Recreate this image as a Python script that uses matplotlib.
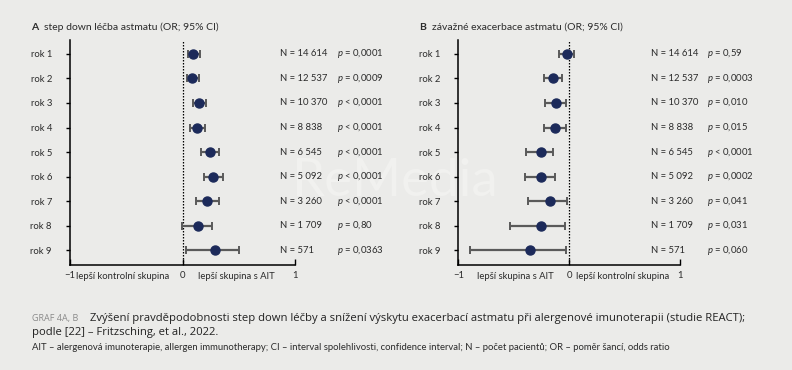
import numpy as np
import matplotlib
matplotlib.use("Agg")
import matplotlib.pyplot as plt
from matplotlib.transforms import blended_transform_factory

# ---- data ----
years = ["rok 1", "rok 2", "rok 3", "rok 4", "rok 5", "rok 6", "rok 7", "rok 8", "rok 9"]
n_patients = ["14 614", "12 537", "10 370", "8 838", "6 545", "5 092", "3 260", "1 709", "571"]

# A: step down lecba astmatu
a_or = [0.09, 0.08, 0.15, 0.13, 0.245, 0.275, 0.22, 0.135, 0.285]
a_lo = [0.05, 0.04, 0.09, 0.07, 0.165, 0.19, 0.12, -0.005, 0.03]
a_hi = [0.155, 0.15, 0.21, 0.20, 0.32, 0.36, 0.32, 0.265, 0.50]
a_p = ["= 0,0001", "= 0,0009", "< 0,0001", "< 0,0001", "< 0,0001",
       "< 0,0001", "< 0,0001", "= 0,80", "= 0,0363"]

# B: zavazne exacerbace astmatu
b_or = [-0.015, -0.145, -0.115, -0.125, -0.255, -0.25, -0.175, -0.255, -0.355]
b_lo = [-0.09, -0.23, -0.215, -0.23, -0.385, -0.40, -0.37, -0.535, -0.89]
b_hi = [0.045, -0.065, -0.025, -0.025, -0.145, -0.125, -0.015, -0.04, -0.025]
b_p = ["= 0,59", "= 0,0003", "= 0,010", "= 0,015", "< 0,0001",
       "= 0,0002", "= 0,041", "= 0,031", "= 0,060"]

BG = "#ebebe9"
TXT = "#2b2b2b"
NAVY = "#1c2a5a"
BAR = "#5a5a5a"

plt.rcParams["font.family"] = ["Lato", "DejaVu Sans"]
plt.rcParams["mathtext.fontset"] = "custom"
plt.rcParams["mathtext.it"] = "Lato:italic"
plt.rcParams["mathtext.rm"] = "Lato"

W, H = 792, 370
fig = plt.figure(figsize=(W / 100, H / 100), dpi=100, facecolor=BG)


def px(x0, y0, x1, y1):
    # figure-pixel box (top-left origin) -> axes rect
    return [x0 / W, 1 - y1 / H, (x1 - x0) / W, (y1 - y0) / H]


# watermark, kept behind everything
fig.text(394 / W, 1 - 181 / H, "ReMedia", fontsize=38, color="#f1f1ef",
         ha="center", va="center", zorder=-5)


def panel(rect, orv, lo, hi, pvals, letter, title, left_lab, right_lab,
          n_x, p_x, tx):
    ax = fig.add_axes(rect)
    ax.set_facecolor("none")
    y = np.arange(1, len(years) + 1)
    orv = np.array(orv)
    err = [orv - np.array(lo), np.array(hi) - orv]
    ax.errorbar(orv, y, xerr=err, fmt="o", color=NAVY, ms=6.5,
                ecolor=BAR, elinewidth=1.6, capsize=2.8, capthick=1.4, zorder=3)
    ax.axvline(0, color="black", lw=0.9, ls=(0, (1.2, 1.2)), zorder=1)
    ax.set_xlim(-1, 1)
    ax.set_ylim(9.61, 0.43)
    for s in ["top", "right"]:
        ax.spines[s].set_visible(False)
    for s in ["left", "bottom"]:
        ax.spines[s].set_linewidth(1.1)
    ax.set_yticks(y)
    ax.set_yticklabels(years, fontsize=6.8, color=TXT)
    ax.tick_params(axis="y", length=3, width=1, pad=10)
    ax.set_xticks([-1, 0, 1])
    ax.set_xticklabels(["\u22121", "0", "1"], fontsize=6.8, color=TXT)
    ax.tick_params(axis="x", direction="in", length=4, width=1, pad=4)
    tr = blended_transform_factory(ax.transData, ax.transAxes)
    lab_y = -0.05
    ax.text(left_lab[0], lab_y, left_lab[1], transform=tr, fontsize=6.8,
            color=TXT, ha="center", va="center")
    ax.text(right_lab[0], lab_y, right_lab[1], transform=tr, fontsize=6.8,
            color=TXT, ha="center", va="center")
    trn = blended_transform_factory(ax.transAxes, ax.transData)
    for yi, n, p in zip(y, n_patients, pvals):
        ax.text(n_x, yi, "N = " + n, transform=trn, fontsize=6.8, color=TXT,
                ha="left", va="center", clip_on=False)
        ax.text(p_x, yi, r"$p$ " + p, transform=trn, fontsize=6.8, color=TXT,
                ha="left", va="center", clip_on=False)
    fig.text(tx / W, 1 - 27 / H, letter, fontsize=7.5, fontweight="bold",
             color=TXT, ha="left", va="center")
    fig.text((tx + 13) / W, 1 - 27 / H, title, fontsize=7.5, color=TXT,
             ha="left", va="center")
    return ax


panel(px(70, 40, 295, 265), a_or, a_lo, a_hi, a_p, "A",
      "step down léčba astmatu (OR; 95% CI)",
      (-0.53, "lepší kontrolní skupina"), (0.48, "lepší skupina s AIT"),
      0.933, 1.187, 31)
panel(px(458.3, 40, 680, 265), b_or, b_lo, b_hi, b_p, "B",
      "závažné exacerbace astmatu (OR; 95% CI)",
      (-0.485, "lepší skupina s AIT"), (0.484, "lepší kontrolní skupina"),
      0.868, 1.123, 419)

# caption
fig.text(32 / W, 1 - 318 / H, "GRAF 4A, B", fontsize=6.5, color="#8a8a8a",
         ha="left", va="center", family="Open Sans")
fig.text(90 / W, 1 - 318 / H,
         "Zvýšení pravděpodobnosti step down léčby a snížení výskytu exacerbací "
         "astmatu při alergenové imunoterapii (studie REACT);",
         fontsize=8.15, color="#222222", ha="left", va="center", family="Open Sans")
fig.text(32 / W, 1 - 333 / H, "podle [22] – Fritzsching, et al., 2022.",
         fontsize=8.15, color="#222222", ha="left", va="center", family="Open Sans")
fig.text(32 / W, 1 - 348 / H,
         "AIT – alergenová imunoterapie, allergen immunotherapy; CI – interval "
         "spolehlivosti, confidence interval; N – počet pacientů; OR – poměr šancí, "
         "odds ratio",
         fontsize=6.85, color=TXT, ha="left", va="center")

fig.savefig("out.png", dpi=100, facecolor=BG)
